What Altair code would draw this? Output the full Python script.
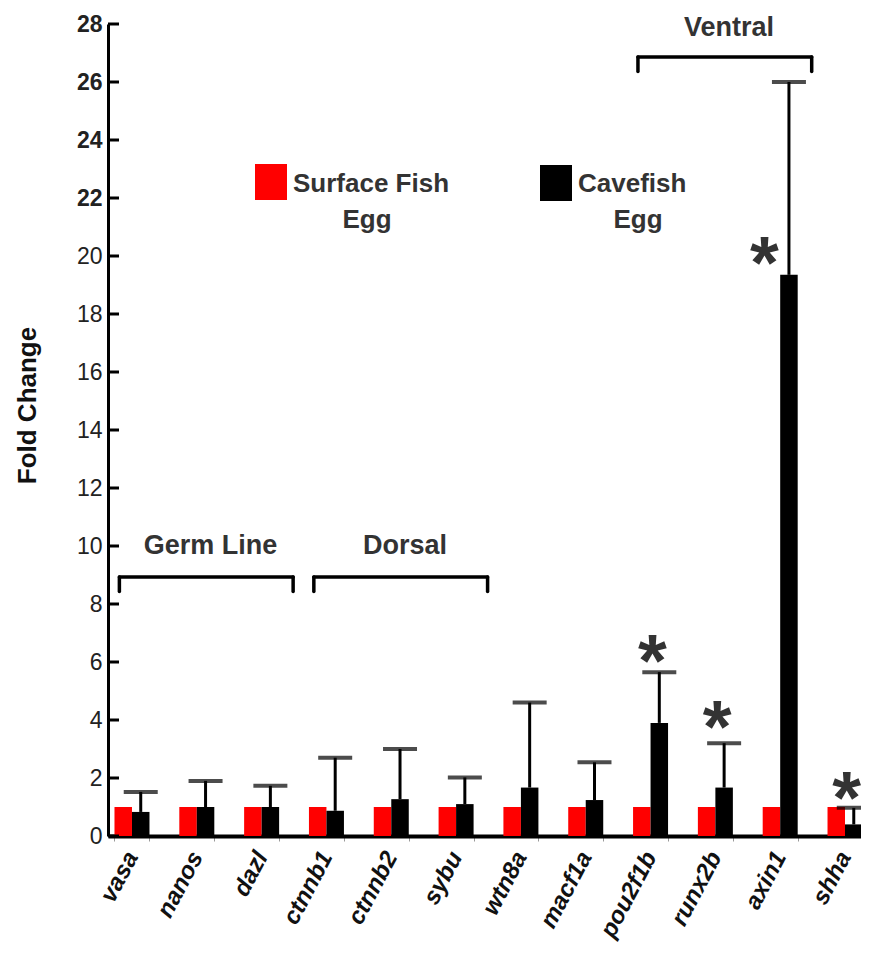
import altair as alt
import pandas as pd

# ---------------- data ----------------
genes = ["vasa", "nanos", "dazl", "ctnnb1", "ctnnb2", "sybu",
         "wtn8a", "macf1a", "pou2f1b", "runx2b", "axin1", "shha"]
surface_fold = [1.0, 1.0, 1.0, 1.0, 1.0, 1.0, 1.0, 1.0, 1.0, 1.0, 1.0, 1.0]
cave_fold = [0.83, 1.0, 1.0, 0.87, 1.27, 1.1, 1.67, 1.24, 3.9, 1.67, 19.35, 0.4]
cave_err_top = [1.52, 1.9, 1.73, 2.7, 3.0, 2.02, 4.6, 2.54, 5.65, 3.2, 26.0, 0.97]

series_names = ["Surface Fish", "Cavefish"]
series_colors = ["#ff0000", "#000000"]

star_genes = ["pou2f1b", "runx2b", "axin1", "shha"]
star_series = ["Cavefish", "Cavefish", "Surface Fish", "Cavefish"]
star_y = [6.64, 4.38, 20.38, 1.93]

group_names = ["Germ Line", "Dorsal", "Ventral"]
group_first = ["vasa", "ctnnb1", "pou2f1b"]
group_last = ["dazl", "sybu", "axin1"]
group_bracket_y = [8.93, 8.93, 26.86]
group_label_y = [10.0, 10.0, 27.86]

y_ticks = [0, 2, 4, 6, 8, 10, 12, 14, 16, 18, 20, 22, 24, 26, 28]

# ---------------- tables ----------------
bars_df = pd.DataFrame({
    "gene": genes + genes,
    "series": [series_names[0]] * len(genes) + [series_names[1]] * len(genes),
    "fold": surface_fold + cave_fold,
})
err_df = pd.DataFrame({
    "gene": genes,
    "series": [series_names[1]] * len(genes),
    "low": cave_fold,
    "high": cave_err_top,
})
star_df = pd.DataFrame({"gene": star_genes, "series": star_series, "y": star_y})
group_df = pd.DataFrame({
    "name": group_names,
    "first": group_first,
    "last": group_last,
    "line_y": group_bracket_y,
    "label_y": group_label_y,
})
tick_df = pd.DataFrame({"v": y_ticks})

FONT = "Liberation Sans"
PLOT_W = 753
PLOT_H = 812

# band scale range runs slightly past the plot edge, as in the cropped original
x_scale = alt.Scale(domain=genes, range=[0, 761], paddingInner=0.46, paddingOuter=0.1)
off_scale = alt.Scale(domain=series_names, paddingInner=0, paddingOuter=0)
y_scale = alt.Scale(domain=[0, 28], nice=False, zero=True)
color_scale = alt.Scale(domain=series_names, range=series_colors)

x_axis = alt.Axis(
    title=None, labelFont=FONT, labelFontSize=24, labelFontWeight="bold",
    labelFontStyle="italic", labelColor="#111", labelAngle=298,
    labelAlign="right", labelBaseline="middle", labelPadding=12,
    domainColor="black", domainWidth=4, ticks=True, tickBand="extent",
    tickColor="#999", tickSize=5, tickWidth=1, grid=False,
)
y_axis = alt.Axis(
    values=y_ticks, title="Fold Change", ticks=False, tickSize=0,
    labelFont=FONT, labelFontSize=23, labelColor="#222", labelPadding=6,
    labelFontWeight=alt.ExprRef(expr="datum.value > 21 ? 'bold' : 'normal'"),
    domainColor="black", domainWidth=3, grid=False,
    titleFont=FONT, titleFontSize=26, titleFontWeight="bold", titleColor="#111",
    titleAngle=270, titleX=-81, titleY=381, titleAlign="center",
    titleBaseline="middle",
)


def gx(field="gene", bp=None):
    if bp is None:
        return alt.X(f"{field}:N", scale=x_scale, axis=x_axis)
    return alt.X(f"{field}:N", scale=x_scale, axis=x_axis, bandPosition=bp)


def gy(field):
    return alt.Y(f"{field}:Q", scale=y_scale, axis=y_axis)


off = alt.XOffset("series:N", scale=off_scale)

bars = alt.Chart(bars_df).mark_bar().encode(
    x=gx(),
    xOffset=off,
    y=gy("fold"),
    color=alt.Color("series:N", scale=color_scale, legend=None),
)

err_line = alt.Chart(err_df).mark_rule(color="black", strokeWidth=3).encode(
    x=gx(), xOffset=off, y=gy("low"), y2=alt.Y2("high")
)
err_cap = alt.Chart(err_df).mark_tick(
    color="black", orient="horizontal", size=34, thickness=4
).encode(x=gx(), xOffset=off, y=gy("high"))

stars = alt.Chart(star_df).mark_text(
    text="*", font=FONT, fontWeight="bold", fontSize=74, color="#333",
    baseline="alphabetic", align="center", dy=43, dx=-7,
).encode(x=gx(), xOffset=off, y=gy("y"))

y_tick_marks = alt.Chart(tick_df).mark_rule(color="black", strokeWidth=3).encode(
    y=gy("v"), x=alt.value(0), x2=alt.value(11)
)

# group brackets
br_style = dict(color="black", strokeWidth=3.5, strokeCap="round")
br_h = alt.Chart(group_df).mark_rule(x2Offset=14, **br_style).encode(
    x=gx("first", 0.14), x2=alt.X2("last", bandPosition=1), y=gy("line_y")
)
br_left = alt.Chart(group_df).transform_calculate(
    leg="datum.line_y - 0.5"
).mark_rule(**br_style).encode(
    x=gx("first", 0.14), y=gy("line_y"), y2=alt.Y2("leg:Q")
)
br_right = alt.Chart(group_df).transform_calculate(
    leg="datum.line_y - 0.5"
).mark_rule(xOffset=14, **br_style).encode(
    x=gx("last", 1), y=gy("line_y"), y2=alt.Y2("leg:Q")
)
br_text = alt.Chart(group_df).mark_text(
    font=FONT, fontWeight="bold", fontSize=27, color="#333",
    baseline="middle", align="center", dx=96,
).encode(x=gx("first", 0), y=gy("label_y"), text="name:N")


# legend drawn as marks
def legend_entry(name, rx, ry, tx, ex):
    d = pd.DataFrame({"series": [name]})
    sq = alt.Chart(d).mark_rect().encode(
        x=alt.value(rx), x2=alt.value(rx + 32), y=alt.value(ry), y2=alt.value(ry + 36),
        color=alt.Color("series:N", scale=color_scale, legend=None),
    )
    t1 = alt.Chart(d).mark_text(
        font=FONT, fontWeight="bold", fontSize=26, color="#333",
        align="left", baseline="alphabetic",
    ).encode(x=alt.value(tx), y=alt.value(168), text="series:N")
    t2 = alt.Chart(d).transform_calculate(egg="'Egg'").mark_text(
        font=FONT, fontWeight="bold", fontSize=26, color="#333",
        align="center", baseline="alphabetic",
    ).encode(x=alt.value(ex), y=alt.value(204), text="egg:N")
    return [sq, t1, t2]


legend_layers = legend_entry(series_names[0], 147, 140, 185, 259) + \
    legend_entry(series_names[1], 432, 141, 470, 530)

chart = alt.layer(
    bars, err_line, err_cap, y_tick_marks, br_h, br_left, br_right, br_text,
    stars, *legend_layers
).properties(
    width=PLOT_W, height=PLOT_H,
    padding={"left": 100, "top": 16, "right": 0, "bottom": 108},
    autosize=alt.AutoSizeParams(type="none"),
).configure(background="white").configure_view(stroke=None)

chart.save("out.html", embed_options={"renderer": "svg", "actions": False})
